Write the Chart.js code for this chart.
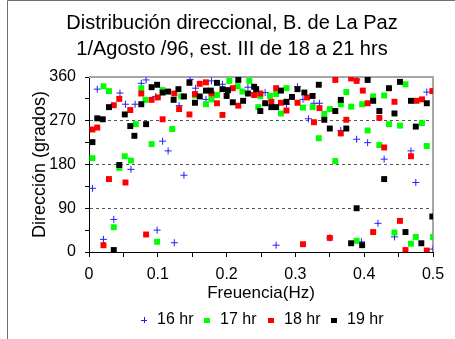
<!DOCTYPE html>
<html><head><meta charset="utf-8">
<script src="https://cdn.jsdelivr.net/npm/chart.js@4"></script>
<style>html,body{margin:0;padding:0;background:#fff}#wrap{width:455px;height:339px;position:relative}</style>
</head><body><div id="wrap"><canvas id="c" width="455" height="339"></canvas></div>
<script>
const titleLines = ['Distribución direccional, B. de La Paz', '1/Agosto /96, est. III de 18 a 21 hrs'];
const xTitle = 'Freuencia(Hz)';
const yTitle = 'Dirección (grados)';
const seriesNames = ['16 hr', '17 hr', '18 hr', '19 hr'];
const xTickLabels = ['0', '0.1', '0.2', '0.3', '0.4', '0.5'];
const yTickLabels = ['0', '90', '180', '270', '360'];

const freq16 = [0.005,0.012,0.021,0.036,0.045,0.053,0.061,0.067,0.076,0.083,0.097,0.099,0.107,0.115,0.124,0.131,0.138,0.147,0.155,0.170,0.178,0.194,0.231,0.256,0.272,0.287,0.303,0.311,0.319,0.327,0.335,0.350,0.366,0.389,0.389,0.396,0.405,0.420,0.429,0.444,0.468,0.475,0.491,0.500];
const dir16  = [131,335,26,67,327,304,170,304,347,354,320,45,228,208,19,301,158,355,337,314,352,345,339,328,14,304,340,314,274,306,306,29,250,354,232,21,225,59,191,31,208,143,329,6];

const freq17 = [0.005,0.021,0.029,0.036,0.044,0.052,0.061,0.068,0.076,0.082,0.091,0.099,0.107,0.121,0.134,0.154,0.170,0.178,0.186,0.204,0.216,0.223,0.233,0.246,0.249,0.263,0.272,0.279,0.287,0.311,0.325,0.334,0.342,0.350,0.358,0.366,0.374,0.381,0.389,0.397,0.405,0.413,0.422,0.429,0.436,0.444,0.452,0.460,0.468,0.475,0.484,0.491,0.500];
const dir17  = [193,341,331,51,173,197,188,263,337,313,222,21,333,253,320,322,304,314,323,352,341,330,352,298,321,321,325,285,337,297,298,234,284,294,187,304,329,299,23,304,250,320,220,322,263,40,260,345,17,31,265,218,31];

const freq18 = [0.005,0.012,0.021,0.029,0.036,0.044,0.053,0.060,0.076,0.083,0.091,0.100,0.107,0.124,0.131,0.146,0.154,0.161,0.170,0.178,0.186,0.194,0.209,0.217,0.240,0.249,0.265,0.272,0.279,0.287,0.303,0.311,0.317,0.327,0.335,0.350,0.358,0.366,0.374,0.381,0.389,0.398,0.405,0.413,0.422,0.429,0.444,0.452,0.460,0.468,0.476,0.484,0.491,0.499];
const dir18  = [252,256,14,150,302,315,143,292,326,36,313,318,273,326,294,283,325,346,349,326,306,282,337,301,323,326,309,337,307,291,307,16,318,267,296,29,354,244,272,357,352,332,306,41,276,215,309,64,4,197,311,314,3,331];

const freq19 = [0.005,0.012,0.020,0.029,0.036,0.044,0.052,0.060,0.066,0.076,0.083,0.091,0.099,0.107,0.115,0.123,0.130,0.138,0.146,0.154,0.161,0.170,0.177,0.186,0.194,0.200,0.202,0.209,0.217,0.224,0.231,0.240,0.243,0.249,0.256,0.265,0.272,0.279,0.287,0.295,0.303,0.313,0.325,0.334,0.342,0.350,0.358,0.366,0.374,0.381,0.389,0.397,0.405,0.413,0.422,0.429,0.436,0.444,0.452,0.460,0.468,0.475,0.483,0.491,0.499];
const dir19  = [226,275,273,298,4,179,283,259,239,304,263,339,344,328,330,313,335,320,348,307,320,332,332,348,335,321,333,308,354,311,326,340,335,290,306,298,298,332,309,319,335,328,321,344,272,254,290,313,254,18,90,14,354,311,290,150,337,285,350,41,311,258,18,306,73];

const FONT = 'Arial, "Liberation Sans", sans-serif';
const colors = ['#2020ff', '#00ff00', '#ff0000', '#000000'];
const toPts = (xs, ys) => xs.map((x, i) => ({x: x, y: ys[i]}));

const frame = {
  id: 'frame',
  beforeDatasetsDraw(chart) {
    const {ctx, chartArea: a} = chart;
    ctx.save();
    ctx.strokeStyle = '#a6a6a6';
    ctx.lineWidth = 2;
    ctx.beginPath();
    ctx.moveTo(a.left, a.top);
    ctx.lineTo(a.right, a.top);
    ctx.lineTo(a.right, a.bottom);
    ctx.stroke();
    ctx.restore();
  },
  afterDraw(chart) {
    const ctx = chart.ctx;
    ctx.save();
    ctx.strokeStyle = '#707070';
    ctx.lineWidth = 1;
    ctx.beginPath();
    ctx.moveTo(7.5, 339); ctx.lineTo(7.5, 0.5); ctx.lineTo(455, 0.5);
    ctx.stroke();
    ctx.fillStyle = '#000';
    ctx.font = '20px ' + FONT;
    ctx.textAlign = 'center';
    ctx.textBaseline = 'alphabetic';
    ctx.fillText(titleLines[0], 232, 29);
    ctx.fillText(titleLines[1], 232, 55);
    ctx.font = '16px ' + FONT;
    ctx.textAlign = 'left';
    ctx.textBaseline = 'middle';
    const textX = [157, 220, 284, 347];
    const ly = 320;
    for (let i = 0; i < 4; i++) {
      const mx = textX[i] - 13;
      if (i === 0) {
        ctx.strokeStyle = colors[0];
        ctx.lineWidth = 1;
        ctx.beginPath();
        ctx.moveTo(mx - 3, ly + 0.5); ctx.lineTo(mx + 3, ly + 0.5);
        ctx.moveTo(mx + 0.5, ly - 3); ctx.lineTo(mx + 0.5, ly + 3);
        ctx.stroke();
      } else {
        ctx.fillStyle = colors[i];
        ctx.fillRect(mx - 3, ly - 2, 6, 5);
      }
      ctx.fillStyle = '#000';
      ctx.fillText(seriesNames[i], textX[i], ly);
    }
    ctx.restore();
  }
};

Chart.defaults.font.family = FONT;
Chart.defaults.color = '#000';

new Chart(document.getElementById('c'), {
  type: 'scatter',
  data: {
    datasets: [
      {label: seriesNames[0], data: toPts(freq16, dir16), pointStyle: 'cross', radius: 3.5, borderColor: colors[0], borderWidth: 1, backgroundColor: colors[0], order: 3},
      {label: seriesNames[1], data: toPts(freq17, dir17), pointStyle: 'rect', radius: 4.2, borderWidth: 0, backgroundColor: colors[1], order: 2},
      {label: seriesNames[2], data: toPts(freq18, dir18), pointStyle: 'rect', radius: 4.2, borderWidth: 0, backgroundColor: colors[2], order: 1},
      {label: seriesNames[3], data: toPts(freq19, dir19), pointStyle: 'rect', radius: 4.2, borderWidth: 0, backgroundColor: colors[3], order: 0}
    ]
  },
  options: {
    responsive: false,
    devicePixelRatio: 1,
    animation: false,
    events: [],
    layout: {padding: {left: 0, top: 77, right: 22, bottom: 35}},
    plugins: {legend: {display: false}, title: {display: false}, tooltip: {enabled: false}},
    scales: {
      x: {
        type: 'linear', position: 'bottom', min: 0, max: 0.5,
        afterFit: s => { s.height = 52; },
        border: {color: '#000', width: 1},
        grid: {drawOnChartArea: false, drawTicks: true, tickLength: 5, tickColor: '#000'},
        ticks: {
          stepSize: 0.05, padding: 8, maxRotation: 0, autoSkip: false,
          font: {size: 16},
          callback: v => {
            const k = Math.round(v * 10);
            return Math.abs(v * 10 - k) < 1e-6 ? xTickLabels[k] : '';
          }
        },
        title: {display: true, text: xTitle, font: {size: 17}, padding: {top: 0, bottom: 0}}
      },
      y: {
        type: 'linear', position: 'left', min: 0, max: 360,
        afterFit: s => { s.width = 89; },
        border: {color: '#000', width: 1, dash: [3, 3]},
        grid: {
          drawOnChartArea: true, drawTicks: true, tickLength: 4, tickColor: '#000', tickBorderDash: [],
          color: c => (c.tick && [90, 180, 270].includes(c.tick.value)) ? '#555' : 'rgba(0,0,0,0)'
        },
        ticks: {
          stepSize: 45, padding: 9, autoSkip: false, font: {size: 16},
          callback: v => (v % 90 === 0 ? yTickLabels[v / 90] : '')
        },
        title: {display: true, text: yTitle, font: {size: 18}, padding: {top: 29, bottom: 0}}
      }
    }
  },
  plugins: [frame]
});
</script></body></html>
